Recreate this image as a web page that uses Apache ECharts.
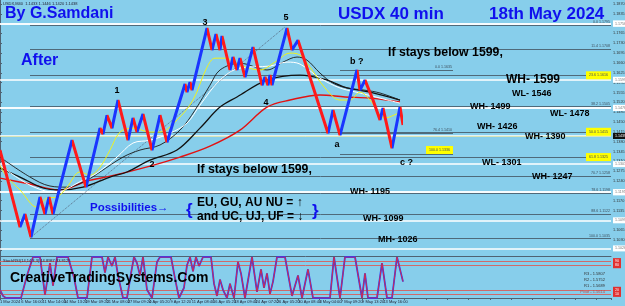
<!DOCTYPE html>
<html>
<head>
<meta charset="utf-8">
<script src="https://cdn.jsdelivr.net/npm/echarts@6/dist/echarts.min.js"></script>
<style>
  html, body { margin: 0; padding: 0; background: #87ceeb; }
  #chart { width: 625px; height: 306px; }
</style>
</head>
<body>
<div id="chart"></div>
<script>
// price zigzag (bar position, price)
const priceX = [0,20,25,31,40,45,49,53,72,86,100,103,107,112,118,128,133,137,143,152,160,167,185,187,190,192,207,212,216,220,222,230,233,237,240,245,253,262,265,268,270,272,287,292,298,328,333,340,357,360,365,373,380,383,392,400,403];
const priceVals = [1.1350,1.1076,1.1122,1.1040,1.1183,1.1122,1.1183,1.1122,1.1385,1.1218,1.1428,1.1407,1.1474,1.1428,1.1528,1.1385,1.1464,1.1414,1.1478,1.1350,1.1474,1.1378,1.1585,1.1556,1.1592,1.1563,1.1784,1.1706,1.1763,1.1706,1.1756,1.1635,1.1681,1.1635,1.1677,1.1610,1.1716,1.1581,1.1610,1.1581,1.1617,1.1581,1.1784,1.1706,1.1741,1.1410,1.1492,1.1403,1.1635,1.1563,1.1599,1.1528,1.1457,1.1499,1.1357,1.1503,1.1439];

// moving averages
const maYellow = [[0,1.1296],[7,1.1254],[20,1.1208],[37,1.1147],[47,1.1179],[57,1.1183],[67,1.1218],[80,1.1272],[90,1.1261],[100,1.1289],[110,1.1350],[120,1.1414],[133,1.1428],[150,1.1414],[160,1.1414],[177,1.1457],[193,1.1528],[207,1.1645],[215,1.1677],[225,1.1677],[240,1.1652],[260,1.1635],[275,1.1663],[290,1.1695],[300,1.1688],[310,1.1645],[325,1.1571],[340,1.1528],[350,1.1528],[360,1.1556],[370,1.1528],[385,1.1464],[400,1.1485]];
const maWhite = [[0,1.1296],[30,1.1225],[55,1.1200],[83,1.1243],[97,1.1268],[117,1.1325],[133,1.1375],[150,1.1385],[170,1.1410],[187,1.1446],[200,1.1510],[220,1.1599],[240,1.1642],[270,1.1649],[287,1.1663],[300,1.1656],[320,1.1606],[340,1.1571],[360,1.1553],[380,1.1535],[400,1.1517]];
const maBlackThin = [[0,1.1325],[30,1.1254],[50,1.1222],[67,1.1218],[87,1.1243],[100,1.1272],[123,1.1325],[140,1.1350],[160,1.1368],[180,1.1421],[195,1.1492],[210,1.1581],[220,1.1635],[240,1.1659],[267,1.1635],[283,1.1663],[297,1.1681],[307,1.1670],[320,1.1624],[333,1.1588],[347,1.1571],[365,1.1563],[380,1.1553],[400,1.1528]];
const maBlack = [[0,1.1286],[20,1.1254],[43,1.1215],[60,1.1208],[83,1.1218],[110,1.1254],[127,1.1272],[150,1.1314],[177,1.1350],[200,1.1428],[220,1.1503],[237,1.1539],[267,1.1599],[300,1.1617],[327,1.1599],[347,1.1571],[370,1.1556],[400,1.1528]];
const maRed = [[0,1.1250],[30,1.1229],[60,1.1208],[87,1.1240],[110,1.1257],[150,1.1293],[180,1.1325],[210,1.1364],[240,1.1421],[267,1.1503],[290,1.1528],[320,1.1546],[345,1.1539],[370,1.1535],[400,1.1521]];
const trendLine = [[31,1.1040],[285,1.1788]];

// levels
const whiteLevels = [1.1781,1.1756,1.1599,1.1546,1.1478,1.1390,1.1301,1.1247,1.1195,1.1099,1.1026];
const fibNames = ['0.0','11.4','23.6','38.2','50.0','61.8','70.7','78.6','88.6','100.0'];
const fibPrices = [1.1795,1.1708,1.1616,1.1505,1.1415,1.1325,1.1258,1.1198,1.1122,1.1035];
const fibYellow = ['23.6','50.0','61.8'];
const shortFibNames = ['0.0','76.4','100.0'];
const shortFibPrices = [1.1635,1.1410,1.1336];

// oscillator
const stochX = [0,3,6,21,27,33,40,45,50,53,57,68,74,78,87,92,102,105,108,112,115,118,123,127,131,134,137,140,143,147,152,157,160,171,175,179,184,187,190,193,196,199,203,211,214,217,220,223,227,230,234,238,241,245,252,257,261,264,267,270,273,277,285,292,298,302,308,313,330,334,340,345,355,362,365,368,377,382,387,392,397,403];
const stochVals = [20,5,0,0,55,100,100,8,85,30,100,100,50,0,0,100,100,62,100,78,100,55,0,0,60,100,85,55,100,20,0,88,100,100,48,0,25,80,100,65,100,78,100,100,35,5,45,20,0,35,0,88,60,0,100,15,70,25,60,10,40,100,100,5,55,0,70,0,0,100,0,100,100,0,60,0,0,85,0,0,100,40];
const stochLevels = [90,80,20,10];

// axis labels
const dateLabels = ['1 Mar 2024','6 Mar 16:00','11 Mar 14:00','14 Mar 13:20','19 Mar 09:20','21 Mar 08:00','27 Mar 09:20','4 Apr 05:20','9 Apr 12:20','11 Apr 08:40','16 Apr 05:20','18 Apr 09:40','24 Apr 07:20','26 Apr 05:20','30 Apr 08:40','3 May 04:00','7 May 09:20','9 May 13:20','13 May 16:00'];
const priceTicks = [1.0995,1.1030,1.1065,1.1100,1.1135,1.1170,1.1205,1.1240,1.1275,1.1310,1.1345,1.1380,1.1415,1.1450,1.1485,1.1520,1.1555,1.1590,1.1625,1.1660,1.1695,1.1730,1.1765,1.1800,1.1835,1.1870];

const UP = '#1a35ff', DOWN = '#ff1a1a', BLUE_TXT = '#1010ee', AXIS = '#4f6272';
const FONT = '"Liberation Sans", Arial, sans-serif';

// up legs blue, down legs red
let pieces = [];
for (let i = 0; i < priceX.length - 1; i++) {
  pieces.push({ gte: priceX[i], lt: priceX[i + 1], color: priceVals[i + 1] >= priceVals[i] ? UP : DOWN });
}
let lastPiece = pieces[pieces.length - 1];
delete lastPiece.lt;
lastPiece.lte = priceX[priceX.length - 1];

const tiny = { fontSize: 3.6, color: '#3d4d5a', fontFamily: FONT };

let levelLines = [];
whiteLevels.forEach(v => {
  levelLines.push({
    yAxis: v,
    lineStyle: { color: '#ffffff', width: 1.5, type: 'solid' },
    label: { show: true, position: 'end', distance: 2, formatter: v.toFixed(4), backgroundColor: '#ffffff', padding: [1, 2], fontSize: 3.6, color: '#777', fontFamily: FONT }
  });
});
fibPrices.forEach((v, i) => {
  const hi = fibYellow.includes(fibNames[i]);
  levelLines.push([
    {
      coord: [30, v],
      lineStyle: { color: '#4f6a7a', width: 1, type: 'solid' },
      label: hi
        ? Object.assign({ show: true, position: 'insideEnd', distance: 0, formatter: fibNames[i] + ' ' + v.toFixed(4), backgroundColor: '#ffff00', padding: [2, 3] }, tiny)
        : Object.assign({ show: true, position: 'insideEndTop', distance: 1, formatter: fibNames[i] + ' ' + v.toFixed(4) }, tiny)
    },
    { coord: [611, v] }
  ]);
});
shortFibPrices.forEach((v, i) => {
  const hi = shortFibNames[i] === '100.0';
  levelLines.push([
    {
      coord: [340, v],
      lineStyle: { color: '#4f6a7a', width: 1, type: 'solid' },
      label: hi
        ? Object.assign({ show: true, position: 'insideEndTop', distance: 0, formatter: shortFibNames[i] + ' ' + v.toFixed(4), backgroundColor: '#ffff00', padding: [2, 3] }, tiny)
        : Object.assign({ show: true, position: 'insideEndTop', distance: 1, formatter: shortFibNames[i] + ' ' + v.toFixed(4) }, tiny)
    },
    { coord: [453, v] }
  ]);
});
const lastPrice = priceVals[priceVals.length - 1];
levelLines.push({
  yAxis: lastPrice,
  lineStyle: { color: '#d4dc96', width: 0.7, type: 'solid' },
  label: { show: true, position: 'end', distance: 2, formatter: lastPrice.toFixed(4), backgroundColor: '#111', color: '#fff', padding: [1, 2], fontSize: 3.6, fontFamily: FONT }
});

let oscLines = stochLevels.map(v => ({
  yAxis: v,
  lineStyle: { color: '#cf6a6a', width: 1, type: 'solid' },
  label: { show: true, position: 'end', distance: 2, formatter: String(v), backgroundColor: '#e03030', color: '#fff', padding: [1, 2], fontSize: 3.6, fontFamily: FONT }
}));

function txt(text, x, y, size, color, align) {
  return {
    type: 'text', silent: true, z: 100,
    style: { text: text, x: x, y: y, fill: color || '#000', font: 'bold ' + size + 'px ' + FONT, align: align || 'left', verticalAlign: 'middle' }
  };
}
function small(text, x, y, color, align) {
  return {
    type: 'text', silent: true, z: 100,
    style: { text: text, x: x, y: y, fill: color || '#223', font: '4px ' + FONT, align: align || 'left', verticalAlign: 'middle' }
  };
}

function maSeries(data, color, width, z) {
  return {
    type: 'line', data: data, smooth: 0.35, showSymbol: false, silent: true, z: z,
    lineStyle: { color: color, width: width }
  };
}

const chart = echarts.init(document.getElementById('chart'));
chart.setOption({
  animation: false,
  backgroundColor: '#87ceeb',
  grid: [
    { left: 0, right: 14, top: 0, height: 256, outerBoundsMode: 'none' },
    { left: 0, right: 14, top: 257, height: 41, outerBoundsMode: 'none' }
  ],
  xAxis: [
    {
      gridIndex: 0, type: 'value', min: 0, max: 611, interval: 21.3,
      axisLine: { show: true, lineStyle: { color: AXIS } },
      axisTick: { show: false }, axisLabel: { show: false }, splitLine: { show: false }
    },
    {
      gridIndex: 1, type: 'value', min: 0, max: 611, interval: 21.3,
      axisLine: { show: true, lineStyle: { color: AXIS } },
      axisTick: { show: true, length: 2, lineStyle: { color: AXIS } },
      axisLabel: {
        show: true, fontSize: 4, color: '#223', margin: 2, align: 'left', fontFamily: FONT,
        formatter: v => dateLabels[Math.round(v / 21.3)] || ''
      },
      splitLine: { show: false }
    }
  ],
  yAxis: [
    {
      gridIndex: 0, type: 'value', position: 'right', min: 1.0973, max: 1.1884,
      axisLine: { show: true, lineStyle: { color: AXIS } },
      axisTick: { show: true, length: 2, customValues: priceTicks, lineStyle: { color: AXIS } },
      axisLabel: { show: true, customValues: priceTicks, fontSize: 3.8, color: '#333', margin: 2, fontFamily: FONT, formatter: v => v.toFixed(4) },
      splitLine: { show: false }
    },
    {
      gridIndex: 1, type: 'value', position: 'right', min: 0, max: 100,
      axisLine: { show: true, lineStyle: { color: AXIS } },
      axisTick: { show: false }, axisLabel: { show: false }, splitLine: { show: false }
    }
  ],
  visualMap: {
    show: false, seriesIndex: 0, dimension: 0, type: 'piecewise', pieces: pieces
  },
  series: [
    {
      type: 'line', data: priceX.map((x, i) => [x, priceVals[i]]), showSymbol: false, silent: true, z: 6,
      lineStyle: { width: 3 }
    },
    maSeries(maRed, '#e31212', 1.4, 4),
    maSeries(maBlack, '#111111', 1.3, 4),
    maSeries(maBlackThin, '#1a1a1a', 0.9, 4),
    maSeries(maWhite, '#ffffff', 1, 4),
    maSeries(maYellow, '#f2f21a', 1, 5),
    {
      type: 'line', data: trendLine, showSymbol: false, silent: true, z: 3,
      lineStyle: { color: '#5a6e86', width: 1, type: 'dotted' },
      markLine: { silent: true, symbol: ['none', 'none'], animation: false, data: levelLines, z: 1 }
    },
    {
      type: 'line', xAxisIndex: 1, yAxisIndex: 1, data: stochX.map((x, i) => [x, stochVals[i]]),
      showSymbol: false, silent: true, z: 3, lineStyle: { color: '#2a3cff', width: 1.8 },
      markLine: { silent: true, symbol: ['none', 'none'], animation: false, data: oscLines, z: 1 }
    },
    {
      type: 'line', xAxisIndex: 1, yAxisIndex: 1, data: stochX.map((x, i) => [x, stochVals[i]]),
      showSymbol: false, silent: true, z: 4, lineStyle: { color: '#e02a3a', width: 0.9 }
    }
  ],
  graphic: [
    small('USDX,M40  1.1433 1.1446 1.1420 1.1438', 3, 4),
    txt('By G.Samdani', 5, 14, 16, BLUE_TXT),
    txt('USDX 40 min', 338, 14, 17, BLUE_TXT),
    txt('18th May 2024', 489, 14, 17, BLUE_TXT),
    txt('After', 21, 61, 16, BLUE_TXT),
    txt('If stays below 1599,', 388, 53, 12.3),
    txt('WH- 1599', 506, 80, 12),
    txt('WL- 1546', 512, 94, 9),
    txt('WH- 1499', 470, 107, 9),
    txt('WL- 1478', 550, 113.5, 9),
    txt('WH- 1426', 477, 127, 9),
    txt('WH- 1390', 525, 137, 9),
    txt('WL- 1301', 482, 163, 9),
    txt('WH- 1247', 532, 177, 9),
    txt('If stays below 1599,', 197, 170, 12.3),
    txt('WH- 1195', 350, 192, 9),
    txt('WH- 1099', 363, 219, 9),
    txt('MH- 1026', 378, 240, 9),
    txt('Possibilities→', 90, 208, 11.5, BLUE_TXT),
    txt('{', 186, 210, 17, BLUE_TXT),
    txt('EU, GU, AU NU = ↑', 197, 203, 12),
    txt('and UC, UJ, UF = ↓', 197, 217, 12),
    txt('}', 312, 211, 17, BLUE_TXT),
    txt('1', 117, 91, 9, '#000', 'center'),
    txt('2', 152, 165, 9, '#000', 'center'),
    txt('3', 205, 23, 9, '#000', 'center'),
    txt('4', 266, 103, 9, '#000', 'center'),
    txt('5', 286, 18, 9, '#000', 'center'),
    txt('a', 337, 145, 9, '#000', 'center'),
    txt('b ?', 350, 62, 9),
    txt('c ?', 400, 163, 9),
    txt('CreativeTradingSystems.Com', 10, 278, 14),
    small('StochRSI(14,14,3,3) 44.8987 33.8125', 3, 261),
    small('R3 - 1.5807', 605, 274, '#333', 'right'),
    small('R2 - 1.5752', 605, 280, '#333', 'right'),
    small('R1 - 1.5689', 605, 286, '#333', 'right'),
    small('Pivot - 1.5614', 605, 292, '#c04848', 'right')
  ]
});
</script>
</body>
</html>
